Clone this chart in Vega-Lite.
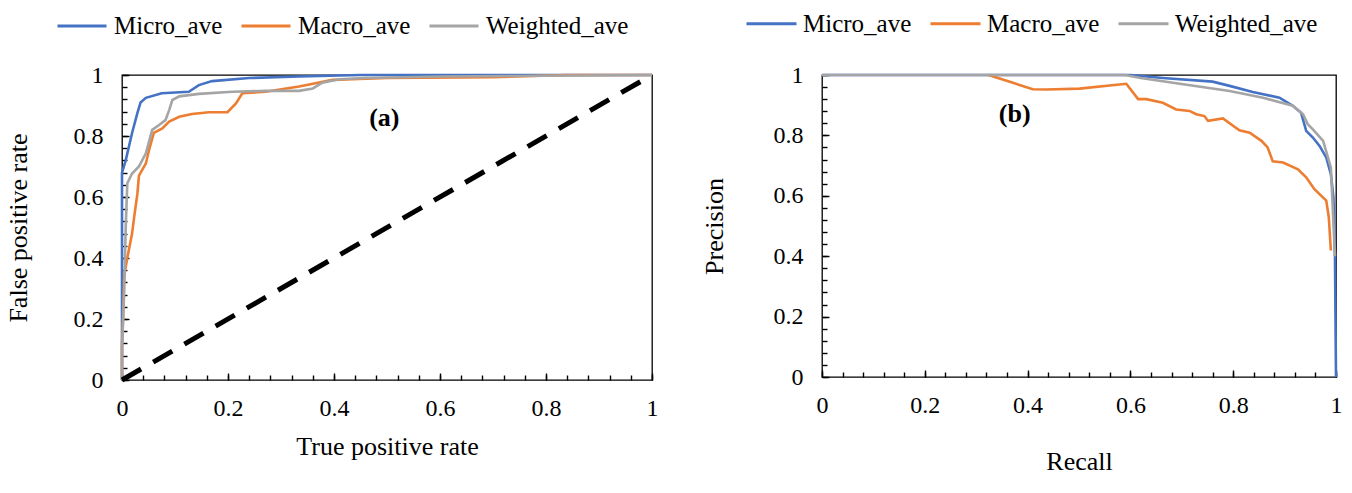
{
  "$schema": "https://vega.github.io/schema/vega-lite/v6.json",
  "padding": {"left": 4, "top": -4, "right": 0, "bottom": 0},
  "background": "white",
  "datasets": {
    "roc": [
      {"series": "Micro_ave", "i": 0, "x": 0, "y": 0},
      {"series": "Micro_ave", "i": 1, "x": 0, "y": 0.38},
      {"series": "Micro_ave", "i": 2, "x": 0, "y": 0.68},
      {"series": "Micro_ave", "i": 3, "x": 0.007, "y": 0.72},
      {"series": "Micro_ave", "i": 4, "x": 0.019, "y": 0.81},
      {"series": "Micro_ave", "i": 5, "x": 0.029, "y": 0.875},
      {"series": "Micro_ave", "i": 6, "x": 0.035, "y": 0.91},
      {"series": "Micro_ave", "i": 7, "x": 0.045, "y": 0.925},
      {"series": "Micro_ave", "i": 8, "x": 0.075, "y": 0.94},
      {"series": "Micro_ave", "i": 9, "x": 0.126, "y": 0.945},
      {"series": "Micro_ave", "i": 10, "x": 0.145, "y": 0.967},
      {"series": "Micro_ave", "i": 11, "x": 0.17, "y": 0.98},
      {"series": "Micro_ave", "i": 12, "x": 0.24, "y": 0.99},
      {"series": "Micro_ave", "i": 13, "x": 0.334, "y": 0.995},
      {"series": "Micro_ave", "i": 14, "x": 0.45, "y": 1},
      {"series": "Micro_ave", "i": 15, "x": 1, "y": 1},
      {"series": "Macro_ave", "i": 0, "x": 0, "y": 0},
      {"series": "Macro_ave", "i": 1, "x": 0, "y": 0.12},
      {"series": "Macro_ave", "i": 2, "x": 0.002, "y": 0.2},
      {"series": "Macro_ave", "i": 3, "x": 0.004, "y": 0.34},
      {"series": "Macro_ave", "i": 4, "x": 0.01, "y": 0.4},
      {"series": "Macro_ave", "i": 5, "x": 0.019, "y": 0.48},
      {"series": "Macro_ave", "i": 6, "x": 0.023, "y": 0.535},
      {"series": "Macro_ave", "i": 7, "x": 0.029, "y": 0.61},
      {"series": "Macro_ave", "i": 8, "x": 0.032, "y": 0.67},
      {"series": "Macro_ave", "i": 9, "x": 0.045, "y": 0.71},
      {"series": "Macro_ave", "i": 10, "x": 0.051, "y": 0.754},
      {"series": "Macro_ave", "i": 11, "x": 0.06, "y": 0.81},
      {"series": "Macro_ave", "i": 12, "x": 0.076, "y": 0.825},
      {"series": "Macro_ave", "i": 13, "x": 0.089, "y": 0.847},
      {"series": "Macro_ave", "i": 14, "x": 0.108, "y": 0.863},
      {"series": "Macro_ave", "i": 15, "x": 0.132, "y": 0.872},
      {"series": "Macro_ave", "i": 16, "x": 0.164, "y": 0.878},
      {"series": "Macro_ave", "i": 17, "x": 0.199, "y": 0.878},
      {"series": "Macro_ave", "i": 18, "x": 0.215, "y": 0.907},
      {"series": "Macro_ave", "i": 19, "x": 0.227, "y": 0.94},
      {"series": "Macro_ave", "i": 20, "x": 0.271, "y": 0.945},
      {"series": "Macro_ave", "i": 21, "x": 0.334, "y": 0.962},
      {"series": "Macro_ave", "i": 22, "x": 0.365, "y": 0.973},
      {"series": "Macro_ave", "i": 23, "x": 0.397, "y": 0.984},
      {"series": "Macro_ave", "i": 24, "x": 0.5, "y": 0.99},
      {"series": "Macro_ave", "i": 25, "x": 0.7, "y": 0.993},
      {"series": "Macro_ave", "i": 26, "x": 0.84, "y": 1},
      {"series": "Macro_ave", "i": 27, "x": 1, "y": 1},
      {"series": "Weighted_ave", "i": 0, "x": 0, "y": 0},
      {"series": "Weighted_ave", "i": 1, "x": 0, "y": 0.1},
      {"series": "Weighted_ave", "i": 2, "x": 0.004, "y": 0.285},
      {"series": "Weighted_ave", "i": 3, "x": 0.007, "y": 0.5},
      {"series": "Weighted_ave", "i": 4, "x": 0.01, "y": 0.645},
      {"series": "Weighted_ave", "i": 5, "x": 0.019, "y": 0.677},
      {"series": "Weighted_ave", "i": 6, "x": 0.032, "y": 0.7},
      {"series": "Weighted_ave", "i": 7, "x": 0.045, "y": 0.743},
      {"series": "Weighted_ave", "i": 8, "x": 0.057, "y": 0.82},
      {"series": "Weighted_ave", "i": 9, "x": 0.07, "y": 0.836},
      {"series": "Weighted_ave", "i": 10, "x": 0.082, "y": 0.852},
      {"series": "Weighted_ave", "i": 11, "x": 0.089, "y": 0.885},
      {"series": "Weighted_ave", "i": 12, "x": 0.095, "y": 0.918},
      {"series": "Weighted_ave", "i": 13, "x": 0.108, "y": 0.93},
      {"series": "Weighted_ave", "i": 14, "x": 0.145, "y": 0.938},
      {"series": "Weighted_ave", "i": 15, "x": 0.208, "y": 0.945},
      {"series": "Weighted_ave", "i": 16, "x": 0.271, "y": 0.948},
      {"series": "Weighted_ave", "i": 17, "x": 0.334, "y": 0.948},
      {"series": "Weighted_ave", "i": 18, "x": 0.36, "y": 0.956},
      {"series": "Weighted_ave", "i": 19, "x": 0.378, "y": 0.975},
      {"series": "Weighted_ave", "i": 20, "x": 0.41, "y": 0.986},
      {"series": "Weighted_ave", "i": 21, "x": 0.46, "y": 0.99},
      {"series": "Weighted_ave", "i": 22, "x": 0.6, "y": 0.995},
      {"series": "Weighted_ave", "i": 23, "x": 1, "y": 1}
    ],
    "pr": [
      {"series": "Micro_ave", "i": 0, "x": 0, "y": 1},
      {"series": "Micro_ave", "i": 1, "x": 0.6, "y": 1},
      {"series": "Micro_ave", "i": 2, "x": 0.663, "y": 0.99},
      {"series": "Micro_ave", "i": 3, "x": 0.76, "y": 0.978},
      {"series": "Micro_ave", "i": 4, "x": 0.793, "y": 0.964},
      {"series": "Micro_ave", "i": 5, "x": 0.838, "y": 0.944},
      {"series": "Micro_ave", "i": 6, "x": 0.89, "y": 0.925},
      {"series": "Micro_ave", "i": 7, "x": 0.916, "y": 0.898},
      {"series": "Micro_ave", "i": 8, "x": 0.932, "y": 0.875},
      {"series": "Micro_ave", "i": 9, "x": 0.942, "y": 0.815},
      {"series": "Micro_ave", "i": 10, "x": 0.955, "y": 0.793},
      {"series": "Micro_ave", "i": 11, "x": 0.968, "y": 0.765},
      {"series": "Micro_ave", "i": 12, "x": 0.981, "y": 0.727},
      {"series": "Micro_ave", "i": 13, "x": 0.99, "y": 0.672},
      {"series": "Micro_ave", "i": 14, "x": 0.995, "y": 0.595},
      {"series": "Micro_ave", "i": 15, "x": 0.998, "y": 0.4},
      {"series": "Micro_ave", "i": 16, "x": 1, "y": 0},
      {"series": "Macro_ave", "i": 0, "x": 0.324, "y": 1},
      {"series": "Macro_ave", "i": 1, "x": 0.41, "y": 0.953},
      {"series": "Macro_ave", "i": 2, "x": 0.437, "y": 0.952},
      {"series": "Macro_ave", "i": 3, "x": 0.501, "y": 0.955},
      {"series": "Macro_ave", "i": 4, "x": 0.592, "y": 0.971},
      {"series": "Macro_ave", "i": 5, "x": 0.615, "y": 0.92},
      {"series": "Macro_ave", "i": 6, "x": 0.631, "y": 0.92},
      {"series": "Macro_ave", "i": 7, "x": 0.663, "y": 0.908},
      {"series": "Macro_ave", "i": 8, "x": 0.689, "y": 0.886},
      {"series": "Macro_ave", "i": 9, "x": 0.715, "y": 0.881},
      {"series": "Macro_ave", "i": 10, "x": 0.728, "y": 0.87},
      {"series": "Macro_ave", "i": 11, "x": 0.744, "y": 0.864},
      {"series": "Macro_ave", "i": 12, "x": 0.751, "y": 0.848},
      {"series": "Macro_ave", "i": 13, "x": 0.78, "y": 0.856},
      {"series": "Macro_ave", "i": 14, "x": 0.812, "y": 0.817},
      {"series": "Macro_ave", "i": 15, "x": 0.832, "y": 0.809},
      {"series": "Macro_ave", "i": 16, "x": 0.855, "y": 0.782},
      {"series": "Macro_ave", "i": 17, "x": 0.867, "y": 0.76},
      {"series": "Macro_ave", "i": 18, "x": 0.877, "y": 0.714},
      {"series": "Macro_ave", "i": 19, "x": 0.897, "y": 0.71},
      {"series": "Macro_ave", "i": 20, "x": 0.926, "y": 0.688},
      {"series": "Macro_ave", "i": 21, "x": 0.942, "y": 0.661},
      {"series": "Macro_ave", "i": 22, "x": 0.958, "y": 0.622},
      {"series": "Macro_ave", "i": 23, "x": 0.981, "y": 0.584},
      {"series": "Macro_ave", "i": 24, "x": 0.986, "y": 0.529},
      {"series": "Macro_ave", "i": 25, "x": 0.99, "y": 0.419},
      {"series": "Weighted_ave", "i": 0, "x": 0, "y": 1},
      {"series": "Weighted_ave", "i": 1, "x": 0.59, "y": 1},
      {"series": "Weighted_ave", "i": 2, "x": 0.62, "y": 0.99},
      {"series": "Weighted_ave", "i": 3, "x": 0.696, "y": 0.971},
      {"series": "Weighted_ave", "i": 4, "x": 0.793, "y": 0.947},
      {"series": "Weighted_ave", "i": 5, "x": 0.858, "y": 0.925},
      {"series": "Weighted_ave", "i": 6, "x": 0.916, "y": 0.898},
      {"series": "Weighted_ave", "i": 7, "x": 0.936, "y": 0.87},
      {"series": "Weighted_ave", "i": 8, "x": 0.945, "y": 0.837},
      {"series": "Weighted_ave", "i": 9, "x": 0.955, "y": 0.82},
      {"series": "Weighted_ave", "i": 10, "x": 0.975, "y": 0.782},
      {"series": "Weighted_ave", "i": 11, "x": 0.99, "y": 0.694},
      {"series": "Weighted_ave", "i": 12, "x": 0.998, "y": 0.4}
    ],
    "diag": [{"x": 0, "y": 0}, {"x": 1, "y": 1}],
    "labA": [{"x": 0.495, "y": 0.86, "t": "(a)"}],
    "labB": [{"x": 0.375, "y": 0.87, "t": "(b)"}]
  },
  "hconcat": [
    {
      "width": 530,
      "height": 305,
      "layer": [
        {
          "data": {"name": "roc"},
          "mark": {"type": "line", "strokeWidth": 2.6},
          "encoding": {
            "x": {"field": "x", "type": "quantitative", "scale": {"domain": [0, 1], "nice": false},
              "axis": {"title": "True positive rate", "values": [0, 0.2, 0.4, 0.6, 0.8, 1], "ticks": true, "offset": -7, "tickSize": 7, "labelPadding": 16, "titlePadding": 13,
                "labelExpr": "datum.value == 0 ? '0' : datum.value == 1 ? '1' : format(datum.value, '.1f')"}},
            "y": {"field": "y", "type": "quantitative", "scale": {"domain": [0, 1], "nice": false},
              "axis": {"title": "False positive rate", "values": [0, 0.2, 0.4, 0.6, 0.8, 1], "ticks": true, "offset": -7, "tickSize": 7, "labelPadding": 19, "titlePadding": 42,
                "labelExpr": "datum.value == 0 ? '0' : datum.value == 1 ? '1' : format(datum.value, '.1f')"}},
            "color": {"field": "series", "type": "nominal",
              "scale": {"domain": ["Micro_ave", "Macro_ave", "Weighted_ave"], "range": ["#4472C4", "#ED7D31", "#A5A5A5"]},
              "legend": {"orient": "none", "legendX": -66, "legendY": -75, "direction": "horizontal", "title": null,
                "symbolType": "stroke", "symbolSize": 2400, "symbolStrokeWidth": 3, "columnPadding": 12, "labelOffset": 6}},
            "order": {"field": "i", "type": "quantitative"}
          }
        },
        {
          "data": {"name": "diag"},
          "mark": {"type": "line", "color": "black", "strokeWidth": 5, "strokeDash": [22, 14]},
          "encoding": {
            "x": {"field": "x", "type": "quantitative", "axis": null},
            "y": {"field": "y", "type": "quantitative", "axis": null}
          }
        },
        {
          "data": {"name": "labA"},
          "mark": {"type": "text", "font": "Liberation Serif", "fontSize": 26, "fontWeight": "bold", "color": "black"},
          "encoding": {
            "x": {"field": "x", "type": "quantitative",
              "axis": {"orient": "bottom", "title": null, "labels": false, "domain": false, "ticks": true, "offset": -5, "tickSize": 5,
                "values": [0, 0.04, 0.08, 0.12, 0.16, 0.2, 0.24, 0.28, 0.32, 0.36, 0.4, 0.44, 0.48, 0.52, 0.56, 0.6, 0.64, 0.68, 0.72, 0.76, 0.8, 0.84, 0.88, 0.92, 0.96, 1]}},
            "y": {"field": "y", "type": "quantitative",
              "axis": {"orient": "left", "title": null, "labels": false, "domain": false, "ticks": true, "offset": -5, "tickSize": 5,
                "values": [0, 0.04, 0.08, 0.12, 0.16, 0.2, 0.24, 0.28, 0.32, 0.36, 0.4, 0.44, 0.48, 0.52, 0.56, 0.6, 0.64, 0.68, 0.72, 0.76, 0.8, 0.84, 0.88, 0.92, 0.96, 1]}},
            "text": {"field": "t"}
          }
        }
      ],
      "resolve": {"axis": {"x": "independent", "y": "independent"}}
    },
    {
      "width": 514,
      "height": 302,
      "layer": [
        {
          "data": {"name": "pr"},
          "mark": {"type": "line", "strokeWidth": 2.6},
          "encoding": {
            "x": {"field": "x", "type": "quantitative", "scale": {"domain": [0, 1], "nice": false},
              "axis": {"title": "Recall", "values": [0, 0.2, 0.4, 0.6, 0.8, 1], "ticks": true, "offset": -7, "tickSize": 7, "labelPadding": 16, "titlePadding": 31,
                "labelExpr": "datum.value == 0 ? '0' : datum.value == 1 ? '1' : format(datum.value, '.1f')"}},
            "y": {"field": "y", "type": "quantitative", "scale": {"domain": [0, 1], "nice": false},
              "axis": {"title": "Precision", "values": [0, 0.2, 0.4, 0.6, 0.8, 1], "ticks": true, "offset": -7, "tickSize": 7, "labelPadding": 19, "titlePadding": 46,
                "labelExpr": "datum.value == 0 ? '0' : datum.value == 1 ? '1' : format(datum.value, '.1f')"}},
            "color": {"field": "series", "type": "nominal",
              "scale": {"domain": ["Micro_ave", "Macro_ave", "Weighted_ave"], "range": ["#4472C4", "#ED7D31", "#A5A5A5"]},
              "legend": {"orient": "none", "legendX": -77, "legendY": -78, "direction": "horizontal", "title": null,
                "symbolType": "stroke", "symbolSize": 2500, "symbolStrokeWidth": 3, "columnPadding": 12, "labelOffset": 5}},
            "order": {"field": "i", "type": "quantitative"}
          }
        },
        {
          "data": {"name": "labB"},
          "mark": {"type": "text", "font": "Liberation Serif", "fontSize": 26, "fontWeight": "bold", "color": "black"},
          "encoding": {
            "x": {"field": "x", "type": "quantitative",
              "axis": {"orient": "bottom", "title": null, "labels": false, "domain": false, "ticks": true, "offset": -5, "tickSize": 5,
                "values": [0, 0.04, 0.08, 0.12, 0.16, 0.2, 0.24, 0.28, 0.32, 0.36, 0.4, 0.44, 0.48, 0.52, 0.56, 0.6, 0.64, 0.68, 0.72, 0.76, 0.8, 0.84, 0.88, 0.92, 0.96, 1]}},
            "y": {"field": "y", "type": "quantitative",
              "axis": {"orient": "left", "title": null, "labels": false, "domain": false, "ticks": true, "offset": -5, "tickSize": 5,
                "values": [0, 0.04, 0.08, 0.12, 0.16, 0.2, 0.24, 0.28, 0.32, 0.36, 0.4, 0.44, 0.48, 0.52, 0.56, 0.6, 0.64, 0.68, 0.72, 0.76, 0.8, 0.84, 0.88, 0.92, 0.96, 1]}},
            "text": {"field": "t"}
          }
        }
      ],
      "resolve": {"axis": {"x": "independent", "y": "independent"}}
    }
  ],
  "resolve": {"legend": {"color": "independent"}},
  "config": {
    "view": {"stroke": "black", "strokeWidth": 1.3},
    "concat": {"spacing": 37},
    "axis": {
      "grid": false, "domain": false, "labelFlush": false, "ticks": true,
      "labelFont": "Liberation Serif", "labelFontSize": 24, "labelColor": "black",
      "titleFont": "Liberation Serif", "titleFontSize": 26, "titleFontWeight": "normal", "titleColor": "black",
      "tickColor": "black", "tickWidth": 1.4, "tickOpacity": 1
    },
    "legend": {"labelFont": "Liberation Serif", "labelFontSize": 25, "labelColor": "black", "padding": 0}
  }
}
